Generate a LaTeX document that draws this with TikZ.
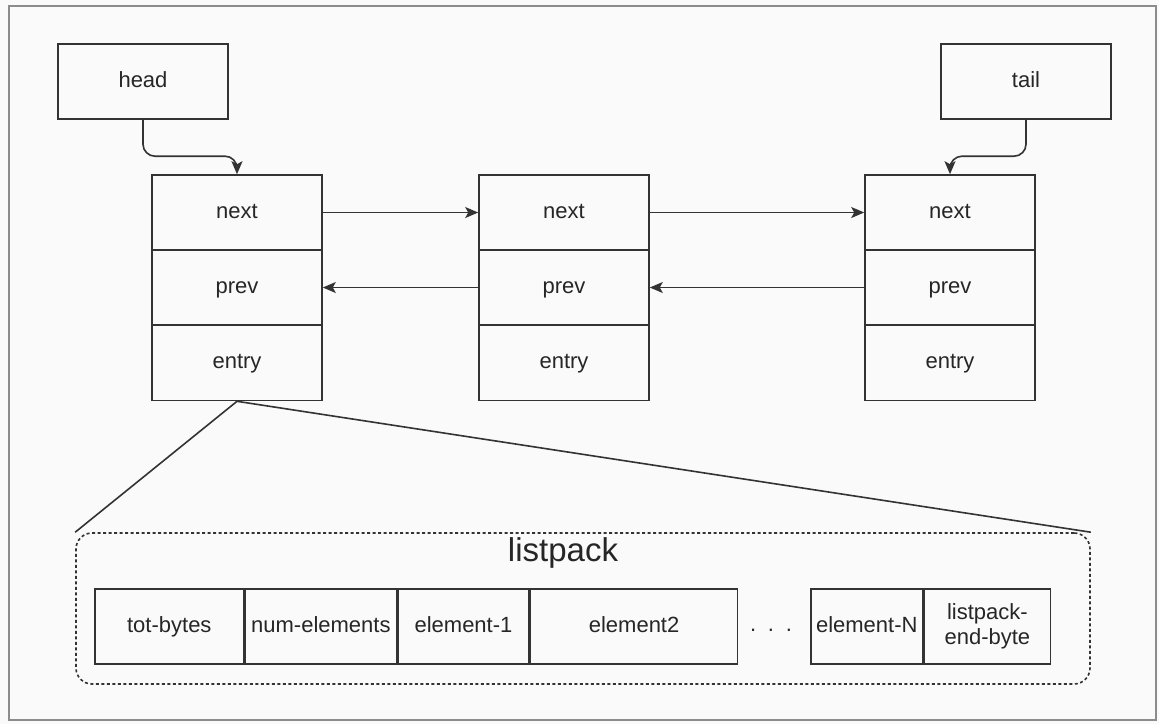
\documentclass[tikz,border=0pt]{standalone}
\usepackage{fontspec}
\setmainfont{Liberation Sans}
\usetikzlibrary{arrows.meta,positioning}
\begin{document}
\begin{tikzpicture}[x=1pt,y=-1pt,
  line width=1.6pt,
  every node/.style={font=\fontsize{22}{25}\selectfont, text=black!85},
  cell/.style={draw=black!80, inner sep=0pt, minimum width=170pt, minimum height=75pt, text height=15pt, text depth=4pt, anchor=center},
  lpcell/.style={draw=black!80, inner sep=0pt, minimum height=75pt, anchor=west, align=center},
  oneline/.style={text height=15pt, text depth=4pt},
  arr/.style={draw=black!80, -{Stealth[length=13pt,width=11pt,inset=3pt]}},
  link/.style={draw=black!80}]
\useasboundingbox (0,0) rectangle (1159,724);
\fill[black!2] (0,0) rectangle (1159,724);
\draw[black!45, line width=2pt] (9,6) rectangle (1156,720);

% head / tail
\node[cell] (head) at (143,81.5) {head};
\node[cell] (tail) at (1026,81.5) {tail};

% quicklist nodes
\node[cell] (n1next)  at (237,212.5) {next};
\node[cell] (n1prev)  at (237,287.5) {prev};
\node[cell] (n1entry) at (237,363)   {entry};
\node[cell] (n2next)  at (564,212.5) {next};
\node[cell] (n2prev)  at (564,287.5) {prev};
\node[cell] (n2entry) at (564,363)   {entry};
\node[cell] (n3next)  at (950,212.5) {next};
\node[cell] (n3prev)  at (950,287.5) {prev};
\node[cell] (n3entry) at (950,363)   {entry};

% head/tail pointers
\draw[arr, rounded corners=12pt] (head.south) |- ([yshift=18pt]n1next.north) -- (n1next.north);
\draw[arr, rounded corners=12pt] (tail.south) |- ([yshift=18pt]n3next.north) -- (n3next.north);

% next / prev links
\draw[arr] (n1next.east) -- (n2next.west);
\draw[arr] (n2next.east) -- (n3next.west);
\draw[arr] (n2prev.west) -- (n1prev.east);
\draw[arr] (n3prev.west) -- (n2prev.east);

% listpack container
\node[draw=black!80, dash pattern=on 3pt off 2.5pt, rounded corners=16pt,
      minimum width=1014pt, minimum height=151pt, inner sep=0pt] (lp) at (583,608.5) {};
\node[font=\fontsize{33}{38}\selectfont] (lplabel) at (563,553) {listpack};

\draw[link] (n1entry.south) -- (lp.north west);
\draw[link] (n1entry.south) -- (lp.north east);

% listpack cells
\node[lpcell, oneline, minimum width=149pt] (c1) at (94,626.5) {tot-bytes};
\node[lpcell, oneline, minimum width=151pt] (c2) at (c1.east) {num-elements};
\node[lpcell, oneline, minimum width=131pt] (c3) at (c2.east) {element-1};
\node[lpcell, oneline, minimum width=207pt] (c4) at (c3.east) {element2};
\node (dots) at (771,630) {. \,. \,.};
\node[lpcell, oneline, minimum width=112pt] (c5) at (810,626.5) {element-N};
\node[lpcell, minimum width=126pt, text width=120pt, font=\fontsize{22}{25}\selectfont] (c6) at (c5.east) {listpack-\\end-byte};
\end{tikzpicture}
\end{document}
